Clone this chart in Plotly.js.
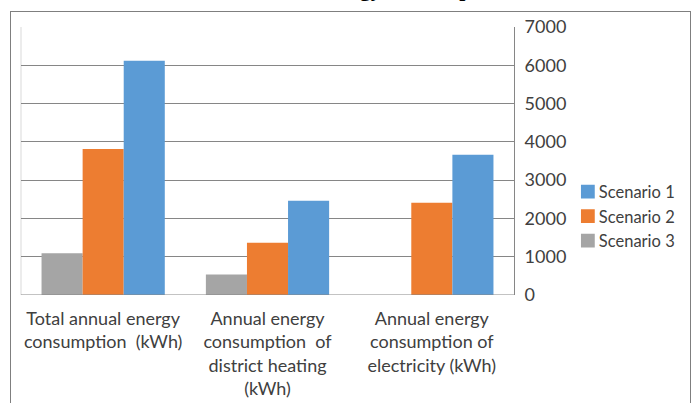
<!DOCTYPE html>
<html><head><meta charset="utf-8">
<script src="https://cdn.plot.ly/plotly-3.0.1.min.js"></script>
<style>
html,body{margin:0;padding:0;background:#fff;overflow:hidden;}
#chart{width:700px;height:403px;position:absolute;left:0;top:0;}
#frame{position:absolute;left:10px;top:11px;width:681px;height:420px;border:1.5px solid #7f7f7f;border-bottom:none;pointer-events:none;box-sizing:border-box;}
</style>
</head><body>
<div id="chart"></div><div id="frame"></div>
<script>
const categories = [
  'Total annual energy<br>consumption  (kWh)',
  'Annual energy<br>consumption  of<br>district heating<br>(kWh)',
  'Annual energy<br>consumption of<br>electricity (kWh)'
];
const seriesNames = ['Scenario 1', 'Scenario 2', 'Scenario 3'];
const scenario1 = [6120, 2465, 3660];
const scenario2 = [3815, 1368, 2412];
const scenario3 = [1090, 538, 0];
const seriesColors = ['#5b9bd5', '#ed7d31', '#a5a5a5'];
const yTickVals = [0, 1000, 2000, 3000, 4000, 5000, 6000, 7000];
const chartTitle = 'Annual energy consumption';

const FONT = 'Lato, Carlito, Calibri, sans-serif';
const values = [scenario1, scenario2, scenario3];

// drawn left-to-right: Scenario 3, Scenario 2, Scenario 1
const traces = [2, 1, 0].map(i => ({
  type: 'bar',
  name: seriesNames[i],
  x: categories,
  y: values[i],
  marker: {color: seriesColors[i], line: {width: 0}},
  hoverinfo: 'skip'
}));

const layout = {
  width: 700, height: 403,
  margin: {l: 21, r: 186, t: 27, b: 108, pad: 0},
  paper_bgcolor: '#ffffff', plot_bgcolor: '#ffffff',
  font: {family: FONT, size: 18, color: '#404040'},
  barmode: 'group', bargap: 0.25, bargroupgap: 0,
  showlegend: true,
  legend: {
    traceorder: 'reversed', x: 1.091, xanchor: 'left', y: 0.45, yanchor: 'top',
    bgcolor: 'rgba(0,0,0,0)', borderwidth: 0,
    font: {family: FONT, size: 16.5, color: '#404040'}
  },
  xaxis: {
    type: 'category', showgrid: false, zeroline: false, showline: false,
    ticks: '', ticklabelstandoff: 11,
    tickfont: {family: FONT, size: 18, color: '#404040'}
  },
  yaxis: {
    side: 'right', range: [0, 7000], tickvals: yTickVals,
    ticktext: yTickVals.map(String),
    showgrid: true, gridcolor: '#868686', gridwidth: 1,
    zeroline: false, showline: true, linecolor: '#868686', linewidth: 1,
    ticks: '', ticklabelstandoff: 6,
    tickfont: {family: FONT, size: 18, color: '#404040'}
  },
  shapes: [
    {type: 'line', xref: 'paper', yref: 'paper', x0: 0, x1: 0, y0: 0, y1: 1,
     line: {color: '#d9d9d9', width: 1}, layer: 'below'},
    {type: 'line', xref: 'paper', yref: 'y', x0: 0, x1: 1, y0: 0, y1: 0,
     line: {color: '#868686', width: 1}, layer: 'above'}
  ],
  annotations: [{
    text: '<b>' + chartTitle + '</b>', xref: 'paper', yref: 'paper',
    x: 0.446, xanchor: 'left', y: 1.143, yanchor: 'middle', showarrow: false,
    font: {family: 'Liberation Serif, Times New Roman, serif', size: 22, color: '#000'}
  }]
};

Plotly.newPlot('chart', traces, layout, {displayModeBar: false, staticPlot: true}).then(() => {
  document.querySelectorAll('.legend .legendpoints path').forEach(p => {
    const t = p.getAttribute('transform') || '';
    p.setAttribute('transform', t + ' translate(9,0) scale(1.15)');
  });
});
</script>
</body></html>
